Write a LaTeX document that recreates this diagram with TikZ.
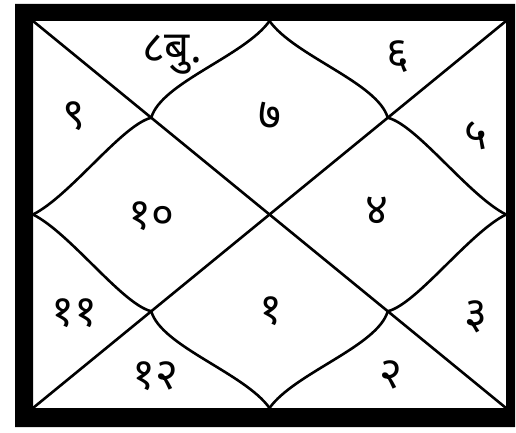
\documentclass[tikz,border=0pt]{standalone}
\usepackage{fontspec}
\newfontfamily\devfont[Script=Devanagari]{Noto Sans}
\begin{document}
\begin{tikzpicture}[
        x=1pt, y=-1pt,
        frame/.style={fill=black, even odd rule},
        rule/.style={line width=2.6pt, line join=round},
        num/.style={font=\devfont\bfseries\fontsize{44}{44}\selectfont, inner sep=0pt}
    ]
    \useasboundingbox (0,0) rectangle (516,433);
    \fill[frame] (15,4) rectangle (515,427) (33,21) rectangle (506,408);

    \coordinate (nw) at (33,21);
    \coordinate (ne) at (506,21);
    \coordinate (sw) at (33,408);
    \coordinate (se) at (506,408);
    \coordinate (top)   at (269.5,21);
    \coordinate (bot)   at (269.5,408);
    \coordinate (left)  at (33,214.5);
    \coordinate (right) at (506,214.5);
    \coordinate (qnw) at (151.25,117.75);
    \coordinate (qne) at (387.75,117.75);
    \coordinate (qsw) at (151.25,311.25);
    \coordinate (qse) at (387.75,311.25);

    \draw[rule] (nw) -- (se);
    \draw[rule] (ne) -- (sw);

    \draw[rule] (top) .. controls +(-25,35) and +(10,-35) .. (qnw);
    \draw[rule] (top) .. controls +(25,35) and +(-10,-35) .. (qne);
    \draw[rule] (bot) .. controls +(-25,-35) and +(10,35) .. (qsw);
    \draw[rule] (bot) .. controls +(25,-35) and +(-10,35) .. (qse);
    \draw[rule] (qnw) .. controls +(-29,7) and +(37,-18.5) .. (left);
    \draw[rule] (qne) .. controls +(29,7) and +(-37,-18.5) .. (right);
    \draw[rule] (qsw) .. controls +(-29,-7) and +(37,18.5) .. (left);
    \draw[rule] (qse) .. controls +(29,-7) and +(-37,18.5) .. (right);

    \node[num] (h8)  at (172,55)  {८बु.};
    \node[num] (h6)  at (398,57)  {६};
    \node[num] (h9)  at (74,116)  {९};
    \node[num] (h7)  at (270,116) {७};
    \node[num] (h5)  at (476,136) {५};
    \node[num] (h10) at (151,216) {१०};
    \node[num] (h4)  at (377,211) {४};
    \node[num] (h11) at (74,313)  {११};
    \node[num] (h1)  at (271,311) {१};
    \node[num] (h3)  at (476,317) {३};
    \node[num] (h12) at (155,376) {१२};
    \node[num] (h2)  at (391,375) {२};
\end{tikzpicture}
\end{document}
